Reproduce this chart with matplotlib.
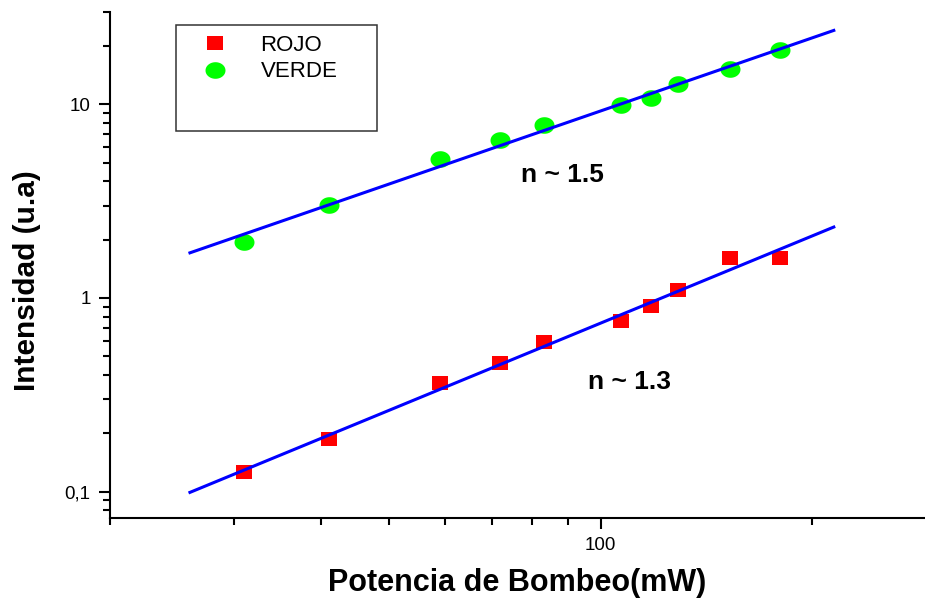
import numpy as np
import matplotlib.pyplot as plt
from matplotlib.path import Path
from matplotlib.patches import Rectangle
from matplotlib.lines import Line2D
from matplotlib.ticker import LogLocator, FuncFormatter, NullFormatter

plt.rcParams['font.family'] = ['Liberation Sans', 'DejaVu Sans']

# potencia de bombeo (mW) y las dos emisiones (u.a)
potencia = [31, 41, 59, 72, 83, 107, 118, 129, 153, 180]
rojo = [0.126, 0.186, 0.364, 0.46, 0.593, 0.761, 0.906, 1.105, 1.60, 1.60]
verde = [1.94, 3.03, 5.20, 6.52, 7.79, 9.88, 10.78, 12.79, 15.21, 19.0]
rango_ajuste = (26, 215)

# marcadores algo achatados
sq = Path([(-1, -0.82), (1, -0.82), (1, 0.82), (-1, 0.82), (-1, -0.82)],
          closed=True)
t = np.linspace(0, 2 * np.pi, 60)
elipse = Path(np.column_stack([np.cos(t), 0.83 * np.sin(t)]), closed=True)

fig = plt.figure(figsize=(9.25, 5.99), dpi=100)
ax = fig.add_axes([0.1189, 0.1352, 0.8811, 0.8447])
ax.set_xscale('log')
ax.set_yscale('log')

xf = np.geomspace(rango_ajuste[0], rango_ajuste[1], 50)
for y, mk, ms, col in [(rojo, sq, 12.2, '#ff0000'), (verde, elipse, 14.4, '#00ff00')]:
    ax.plot(potencia, y, linestyle='none', marker=mk, markersize=ms,
            markerfacecolor=col, markeredgewidth=0, zorder=2)
    # ajuste lineal en log-log
    p = np.polyfit(np.log10(potencia), np.log10(y), 1)
    ax.plot(xf, 10 ** np.polyval(p, np.log10(xf)), color='#0000ff', lw=2.2, zorder=3)

ax.text(77, 4.3, 'n ~ 1.5', fontsize=19, fontweight='bold', va='center')
ax.text(96, 0.367, 'n ~ 1.3', fontsize=19, fontweight='bold', va='center')

ax.set_xlim(20, 290)
ax.set_ylim(0.073, 30)

ax.xaxis.set_major_locator(LogLocator(base=10))
ax.xaxis.set_minor_locator(LogLocator(base=10, subs=np.arange(2, 10)))
ax.xaxis.set_major_formatter(FuncFormatter(lambda v, _: f'{v:g}'))
ax.xaxis.set_minor_formatter(NullFormatter())
ax.yaxis.set_major_locator(LogLocator(base=10))
ax.yaxis.set_minor_locator(LogLocator(base=10, subs=np.arange(2, 10)))
ax.yaxis.set_major_formatter(FuncFormatter(lambda v, _: f'{v:g}'.replace('.', ',')))
ax.yaxis.set_minor_formatter(NullFormatter())

for s in ['top', 'right']:
    ax.spines[s].set_visible(False)
for s in ['left', 'bottom']:
    ax.spines[s].set_linewidth(1.5)
ax.tick_params(which='major', length=8, width=1.5, labelsize=13.5, pad=6)
ax.tick_params(which='minor', length=5, width=1.5)

ax.set_xlabel('Potencia de Bombeo(mW)', fontsize=22, fontweight='bold', labelpad=10)
ax.set_ylabel('Intensidad (u.a)', fontsize=21.5, fontweight='bold')
ax.yaxis.set_label_coords(-0.085, 0.47)

# leyenda con su recuadro
ax.add_patch(Rectangle((0.081, 0.7654), 0.2466, 0.2086, transform=ax.transAxes,
                       fill=False, lw=1.1, ec='#333333', zorder=4))
handles = [Line2D([], [], linestyle='none', marker=sq, markersize=12.2,
                  markerfacecolor='#ff0000', markeredgewidth=0),
           Line2D([], [], linestyle='none', marker=elipse, markersize=14.4,
                  markerfacecolor='#00ff00', markeredgewidth=0)]
ax.legend(handles, ['ROJO', 'VERDE'], loc='upper left', bbox_to_anchor=(0.1153, 0.955),
          frameon=False, fontsize=16, handlelength=1.0, handletextpad=1.55,
          labelspacing=0.25, borderpad=0, borderaxespad=0)

fig.savefig('out.png', dpi=100)
